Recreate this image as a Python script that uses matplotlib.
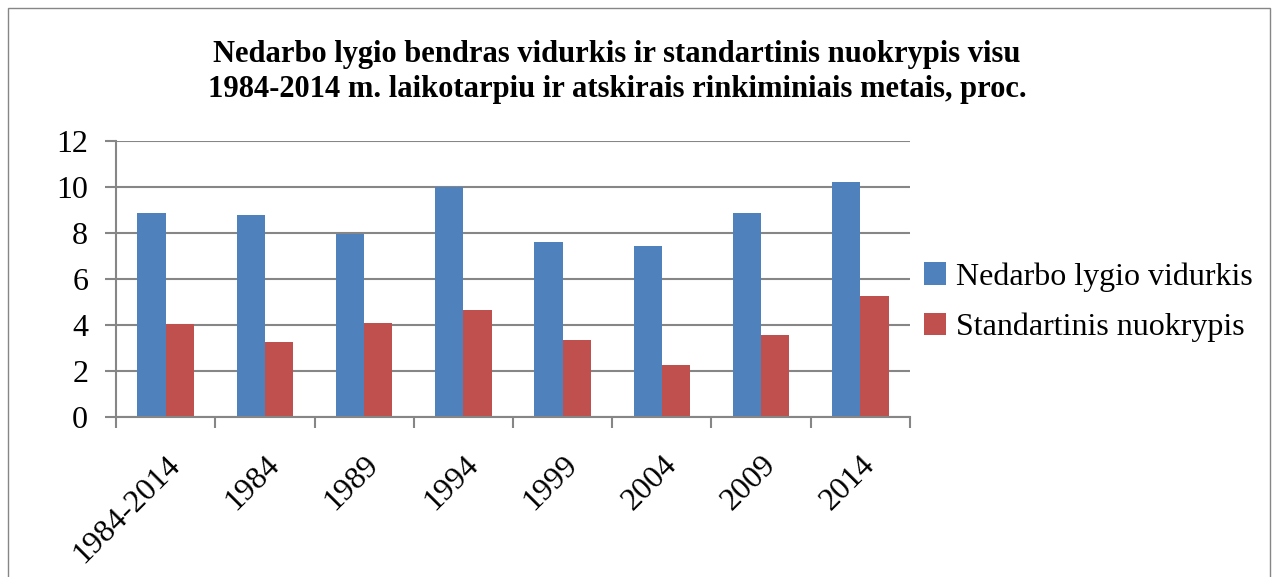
import numpy as np
import matplotlib.pyplot as plt
from matplotlib.patches import Rectangle

categories = ['1984-2014', '1984', '1989', '1994', '1999', '2004', '2009', '2014']
vidurkis = [8.85, 8.79, 7.95, 9.98, 7.59, 7.45, 8.89, 10.22]
nuokrypis = [4.05, 3.27, 4.09, 4.66, 3.34, 2.26, 3.56, 5.25]

plt.rcParams['font.family'] = ['Liberation Serif', 'DejaVu Serif']

fig = plt.figure(figsize=(12.78, 5.77), dpi=100)
ax = fig.add_axes([116 / 1278, 1 - 417 / 577, (910 - 116) / 1278, (417 - 141) / 577])

x = np.arange(len(categories))
w = 0.285
ax.bar(x - w / 2, vidurkis, w, color='#4f81bd', label='Nedarbo lygio vidurkis')
ax.bar(x + w / 2, nuokrypis, w, color='#c0504d', label='Standartinis nuokrypis')

ax.set_xlim(-0.5, len(categories) - 0.5)
ax.set_ylim(0, 12)
ax.set_yticks(range(0, 13, 2))
ax.yaxis.grid(True, color='#868686', linewidth=1.5)
ax.set_axisbelow(True)

for s in ['top', 'right']:
    ax.spines[s].set_visible(False)
for s in ['left', 'bottom']:
    ax.spines[s].set_color('#868686')
    ax.spines[s].set_linewidth(1.5)

# category labels under the centres, tick marks between categories
ax.set_xticks(x)
ax.set_xticklabels(categories, rotation=45, ha='right', va='top', rotation_mode='anchor')
ax.set_xticks(np.arange(-0.5, len(categories)), minor=True)
ax.tick_params(axis='x', which='major', length=0, pad=24, labelsize=23)
ax.tick_params(axis='x', which='minor', length=8, width=1.5, color='#868686')
ax.tick_params(axis='y', length=8, width=1.5, color='#868686', labelsize=23, pad=12)

fig.text(617 / 1278, 1 - 72 / 577,
         'Nedarbo lygio bendras vidurkis ir standartinis nuokrypis visu\n'
         '1984-2014 m. laikotarpiu ir atskirais rinkiminiais metais, proc.',
         ha='center', va='center', fontsize=22, fontweight='bold', linespacing=1.25)

fig.legend(loc='center left', bbox_to_anchor=(895 / 1278, 1 - 302 / 577),
           frameon=False, fontsize=23, handlelength=0.7, handleheight=0.7,
           handletextpad=0.3, labelspacing=0.65)

# thin frame round the chart
fig.patches.append(Rectangle((8 / 1278, -0.1), 1262 / 1278, 1.1 - 8 / 577,
                             transform=fig.transFigure, fill=False,
                             edgecolor='#868686', linewidth=1))

fig.savefig('out.png', dpi=100)
